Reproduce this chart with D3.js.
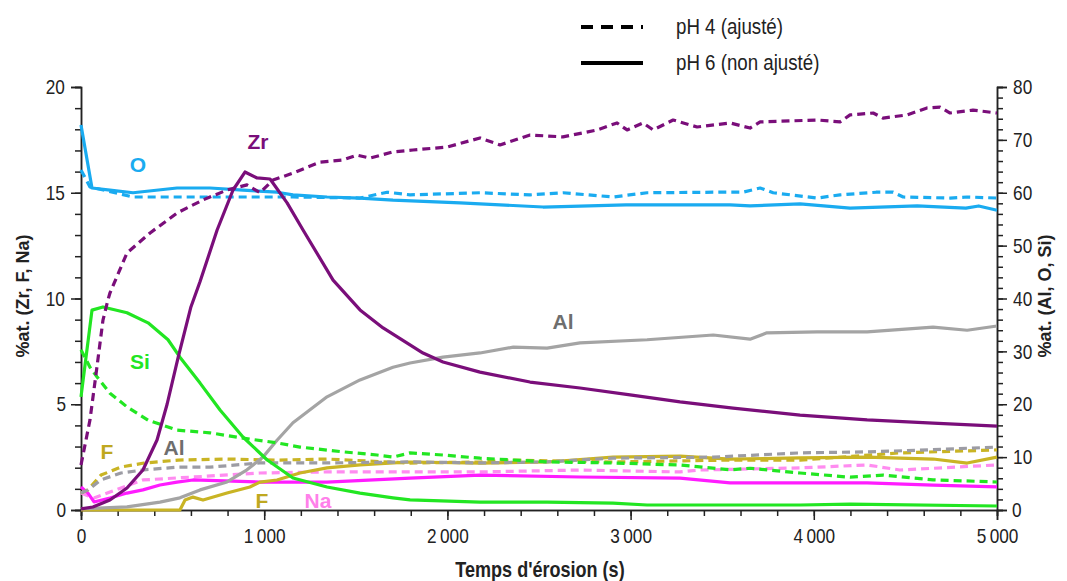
<!DOCTYPE html>
<html><head><meta charset="utf-8">
<script src="https://cdn.jsdelivr.net/npm/d3@7"></script>
<style>
body{margin:0;background:#fff;}
svg text{font-family:"Liberation Sans",Arial,sans-serif;}
.nc{transform-box:fill-box;transform-origin:center;transform:scaleX(0.82);}
.nl{transform-box:fill-box;transform-origin:left;transform:scaleX(0.85);}
</style></head>
<body><svg id="c" width="1067" height="581"></svg>
<script>
// x ticks
const xTicks = [0,1000,2000,3000,4000,5000];
const leftTicks = [0,5,10,15,20];
const rightTicks = [0,10,20,30,40,50,60,70,80];

// left axis series (Zr, F, Na) : [time (s), %at.]
const zr_pH6 = [[0,0.05],[65,0.14],[158,0.47],[251,1.04],[338,1.89],[415,3.31],[470,5.0],[530,7.2],[600,9.6],[650,10.8],[743,13.24],[830,15.13],[895,15.98],[961,15.7],[1032,15.65],[1125,14.52],[1212,13.24],[1376,10.87],[1523,9.46],[1649,8.61],[1867,7.42],[1976,7.0],[2178,6.52],[2451,6.05],[2724,5.77],[2997,5.44],[3270,5.11],[3559,4.82],[3925,4.49],[4291,4.26],[4651,4.11],[5000,3.97]];
const zr_pH4 = [[0,2.13],[49,4.26],[87,6.76],[120,8.98],[147,9.93],[158,10.26],[251,12.15],[377,13.1],[524,14.04],[666,14.66],[797,15.13],[906,15.37],[977,15.0],[1048,15.6],[1157,15.93],[1305,16.45],[1430,16.55],[1507,16.78],[1578,16.64],[1703,16.93],[1812,17.02],[1998,17.16],[2178,17.59],[2287,17.26],[2451,17.73],[2631,17.64],[2817,17.97],[2926,18.3],[2981,17.97],[3068,18.3],[3123,17.97],[3232,18.44],[3363,18.11],[3543,18.3],[3652,18.06],[3707,18.35],[4018,18.44],[4143,18.35],[4198,18.68],[4324,18.77],[4378,18.53],[4509,18.68],[4618,19.01],[4689,19.05],[4744,18.77],[4869,18.91],[5000,18.77]];
const f_pH6 = [[0,0],[540,0],[568,0.47],[611,0.61],[666,0.47],[797,0.8],[922,1.09],[977,1.32],[1070,1.42],[1195,1.75],[1343,1.99],[1523,2.13],[1796,2.27],[2178,2.22],[2544,2.27],[2904,2.5],[3270,2.55],[3543,2.41],[3925,2.46],[4291,2.5],[4651,2.41],[4837,2.22],[5000,2.5]];
const f_pH4 = [[0,0.8],[38,0.95],[109,1.65],[218,2.03],[344,2.22],[530,2.36],[797,2.41],[1070,2.36],[1343,2.41],[1796,2.22],[2178,2.27],[2360,2.36],[2904,2.27],[3543,2.36],[3925,2.36],[4470,2.7],[5000,2.84]];
const na_pH6 = [[0,1.09],[38,0.8],[71,0.38],[158,0.57],[251,0.8],[338,0.95],[431,1.18],[524,1.32],[611,1.42],[977,1.32],[1343,1.32],[1796,1.51],[2178,1.65],[2724,1.56],[3270,1.51],[3543,1.28],[3925,1.28],[4291,1.28],[4651,1.18],[5000,1.09]];
const na_pH4 = [[0,0.8],[71,0.57],[158,0.85],[338,1.42],[611,1.56],[977,1.75],[1343,1.8],[1796,1.8],[2178,1.8],[2724,1.89],[3270,1.8],[3379,1.89],[3925,1.99],[4291,2.13],[4470,1.89],[5000,2.13]];

// right axis series (Al, O, Si)
const o_pH6 = [[0,72.8],[60,60.9],[158,60.5],[284,60.0],[524,60.9],[704,60.9],[884,60.5],[1070,60.1],[1157,59.6],[1343,59.2],[1523,59.0],[1703,58.6],[2069,58.1],[2522,57.3],[2975,57.7],[3543,57.7],[3652,57.5],[3925,57.9],[4198,57.1],[4564,57.5],[4830,57.1],[4900,57.5],[5000,56.7]];
const o_pH4 = [[0,64.3],[49,61.1],[284,59.2],[611,59.2],[977,59.2],[1157,59.2],[1523,59.0],[1671,60.1],[1796,59.6],[2178,60.0],[2451,59.6],[2631,60.0],[2904,59.2],[3090,60.0],[3451,60.1],[3612,60.1],[3707,60.9],[3778,60.0],[4018,59.0],[4143,59.6],[4340,60.1],[4433,60.1],[4488,59.2],[4744,59.0],[4837,59.2],[5000,59.0]];
const si_pH6 = [[0,21.4],[60,37.8],[120,38.4],[251,37.3],[366,35.4],[475,32.2],[540,28.9],[650,24.0],[759,18.9],[884,13.8],[1015,9.5],[1157,6.05],[1343,4.35],[1523,3.2],[1703,2.3],[1796,1.9],[2178,1.5],[2544,1.5],[2904,1.3],[3090,0.95],[3543,0.95],[3925,0.95],[4198,1.1],[5000,0.76]];
const si_pH4 = [[0,30.3],[49,27.0],[87,25.2],[158,22.1],[251,19.5],[366,17.0],[524,15.1],[704,14.6],[884,13.6],[1070,12.7],[1195,11.9],[1430,11.0],[1616,10.4],[1703,10.0],[1796,10.8],[1976,10.4],[2178,9.8],[2544,9.1],[2904,8.9],[3270,8.5],[3543,7.6],[3652,7.9],[3925,7.0],[4198,6.2],[4378,6.6],[4651,5.7],[5000,5.3]];
const al_pH6 = [[0,0.2],[251,0.6],[431,1.5],[540,2.3],[650,3.8],[797,5.3],[906,7.6],[993,10.0],[1070,13.2],[1157,16.5],[1343,21.4],[1523,24.6],[1703,27.0],[1796,27.8],[1976,28.9],[2178,29.7],[2360,30.8],[2544,30.6],[2724,31.6],[3090,32.2],[3451,33.1],[3652,32.3],[3744,33.5],[4018,33.7],[4291,33.7],[4651,34.6],[4837,34.0],[5000,34.8]];
const al_pH4 = [[0,3.2],[38,3.8],[109,5.7],[218,7.0],[344,7.6],[530,8.1],[704,8.1],[977,8.9],[1343,8.9],[1796,9.1],[2178,8.9],[2544,9.1],[2904,9.8],[3451,10.0],[3925,10.8],[4291,11.0],[4564,11.3],[5000,11.9]];

const m = {l:81, r:997, t:87, b:510};
const svg = d3.select("#c");
const x = d3.scaleLinear().domain([0,5000]).range([m.l,m.r]);
const yL = d3.scaleLinear().domain([0,20]).range([m.b,m.t]);
const yR = d3.scaleLinear().domain([0,80]).range([m.b,m.t]);

const axFont = 21;
const styleTicks = g => g.selectAll("text").attr("font-size",axFont).attr("fill","#222").attr("class","nc");
svg.append("g").attr("transform",`translate(0,${m.b})`)
  .call(d3.axisBottom(x).tickValues(d3.range(0,5001,200)).tickSize(6).tickFormat(""));
svg.append("g").attr("transform",`translate(0,${m.b})`)
  .call(d3.axisBottom(x).tickValues(xTicks).tickSize(10).tickFormat(d=> d===0?"0":(d/1000)+"\u2009000").tickPadding(8))
  .call(styleTicks);
svg.append("g").attr("transform",`translate(${m.l},0)`)
  .call(d3.axisLeft(yL).tickValues(d3.range(0,21,1)).tickSize(6).tickFormat(""));
svg.append("g").attr("transform",`translate(${m.l},0)`)
  .call(d3.axisLeft(yL).tickValues(leftTicks).tickSize(10).tickPadding(4))
  .call(styleTicks);
svg.append("g").attr("transform",`translate(${m.r},0)`)
  .call(d3.axisRight(yR).tickValues(d3.range(0,81,2)).tickSize(6).tickFormat(""));
svg.append("g").attr("transform",`translate(${m.r},0)`)
  .call(d3.axisRight(yR).tickValues(rightTicks).tickSize(10).tickPadding(4))
  .call(styleTicks);
svg.selectAll(".domain").attr("stroke","#222").attr("stroke-width",1.5);
svg.selectAll(".tick line").attr("stroke","#222").attr("stroke-width",1.5);

// titles
svg.append("text").attr("x",540).attr("y",577).attr("text-anchor","middle").attr("class","nc")
  .attr("font-size",22).attr("font-weight","bold").attr("fill","#222").text("Temps d'érosion (s)");
svg.append("text").attr("transform",`translate(29,296) rotate(-90)`).attr("text-anchor","middle")
  .attr("font-size",18).attr("font-weight","bold").attr("fill","#222").text("%at. (Zr, F, Na)");
svg.append("text").attr("transform",`translate(1051,296) rotate(-90)`).attr("text-anchor","middle")
  .attr("font-size",18).attr("font-weight","bold").attr("fill","#222").text("%at. (Al, O, Si)");

// lines
const lineL = d3.line().x(d=>x(d[0])).y(d=>yL(d[1]));
const lineR = d3.line().x(d=>x(d[0])).y(d=>yR(d[1]));
const series = [
  {d:na_pH4, s:"L", c:"#ff8cf0", dash:true},
  {d:na_pH6, s:"L", c:"#ff1cff", dash:false},
  {d:f_pH4, s:"L", c:"#c9b424", dash:true},
  {d:f_pH6, s:"L", c:"#c9b424", dash:false},
  {d:al_pH4, s:"R", c:"#9c9ca4", dash:true},
  {d:al_pH6, s:"R", c:"#a4a4a4", dash:false},
  {d:si_pH4, s:"R", c:"#22e622", dash:true},
  {d:si_pH6, s:"R", c:"#22e622", dash:false},
  {d:o_pH4, s:"R", c:"#1aabf0", dash:true},
  {d:o_pH6, s:"R", c:"#1aabf0", dash:false},
  {d:zr_pH4, s:"L", c:"#7a0e7a", dash:true},
  {d:zr_pH6, s:"L", c:"#7a0e7a", dash:false},
];
series.forEach(se=>{
  const data = se.d.slice().sort((a,b)=>a[0]-b[0]);
  svg.append("path").datum(data)
    .attr("d", se.s==="L" ? lineL(data) : lineR(data))
    .attr("fill","none").attr("stroke",se.c).attr("stroke-width",3.2)
    .attr("stroke-linejoin","round")
    .attr("stroke-dasharray", se.dash ? "8,5" : null);
});

// element labels
const labels = [
  {t:"O", x:138, y:172, c:"#1aabf0"},
  {t:"Zr", x:258, y:149, c:"#7a0e7a"},
  {t:"Si", x:140, y:369, c:"#22e622"},
  {t:"F", x:107, y:459, c:"#bfa820"},
  {t:"Al", x:174, y:455, c:"#6e6e6e"},
  {t:"F", x:262, y:508, c:"#bfa820"},
  {t:"Na", x:318, y:508, c:"#ff80ea"},
  {t:"Al", x:563, y:329, c:"#6e6e6e"},
];
svg.selectAll(".lab").data(labels).enter().append("text")
  .attr("x",d=>d.x).attr("y",d=>d.y).attr("text-anchor","middle")
  .attr("font-size",21).attr("font-weight","bold").attr("fill",d=>d.c).text(d=>d.t);

// legend
svg.append("line").attr("x1",581).attr("x2",643).attr("y1",27).attr("y2",27)
  .attr("stroke","#000").attr("stroke-width",4).attr("stroke-dasharray","12,8");
svg.append("line").attr("x1",581).attr("x2",643).attr("y1",63).attr("y2",63)
  .attr("stroke","#000").attr("stroke-width",4);
svg.append("text").attr("x",676).attr("y",34).attr("class","nl").attr("font-size",22).attr("fill","#222").text("pH 4 (ajusté)");
svg.append("text").attr("x",676).attr("y",70).attr("class","nl").attr("font-size",22).attr("fill","#222").text("pH 6 (non ajusté)");
</script></body></html>
